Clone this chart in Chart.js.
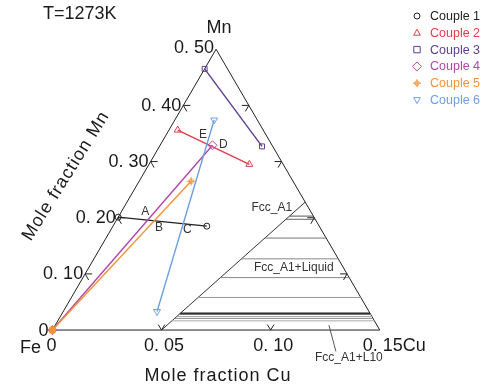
<!DOCTYPE html>
<html>
<head>
<meta charset="utf-8">
<script src="https://cdn.jsdelivr.net/npm/chart.js@4.4.1/dist/chart.umd.min.js"></script>
<style>
  html, body { margin: 0; padding: 0; background: #ffffff; }
  canvas { display: block; }
</style>
</head>
<body>
<canvas id="chart" width="483" height="389"></canvas>
<script>
// Fe-rich corner of the Fe-Cu-Mn isothermal section at 1273 K
const CU_MAX = 0.15;
const MN_MAX = 0.50;

const cuTicks = [0.05, 0.10];
const cuTickLabels = ['0. 05', '0. 10'];
const mnTicks = [0.10, 0.20, 0.30, 0.40];
const mnTickLabels = ['0. 10', '0. 20', '0. 30', '0. 40'];

// Diffusion couples: terminal compositions (mole fraction Cu, Mn)
const coupleNames = ['Couple 1', 'Couple 2', 'Couple 3', 'Couple 4', 'Couple 5', 'Couple 6'];
const coupleColors = ['#222222', '#e23d4b', '#5e3d8f', '#b047a6', '#f29338', '#6f9fe0'];
const couple1Cu = [0.000, 0.043];
const couple1Mn = [0.201, 0.185];
const couple2Cu = [0.004, 0.046];
const couple2Mn = [0.356, 0.295];
const couple3Cu = [0.000, 0.047];
const couple3Mn = [0.465, 0.327];
const couple4Cu = [0.000, 0.024];
const couple4Mn = [0.000, 0.329];
const couple5Cu = [0.000, 0.0238];
const couple5Mn = [0.000, 0.265];
const couple6Cu = [0.018, 0.043];
const couple6Mn = [0.374, 0.033];

// Fcc_A1 / Fcc_A1+Liquid phase boundary
const boundaryCu = [0.050, 0.0817];
const boundaryMn = [0.000, 0.228];

// Tie lines: Mn level, Cu at the Fcc end, Cu at the liquid end
const tieMn    = [0.2029, 0.1972, 0.1638, 0.1268, 0.0934, 0.0580, 0.0303, 0.0290, 0.0277, 0.0242, 0.0208, 0.0164];
const tieCuFcc = [0.0782, 0.0774, 0.0728, 0.0676, 0.0630, 0.0581, 0.0542, 0.0540, 0.0539, 0.0534, 0.0529, 0.0523];
const tieCuLiq = [0.0891, 0.0908, 0.1009, 0.1120, 0.1220, 0.1326, 0.1409, 0.1413, 0.1417, 0.1427, 0.1438, 0.1451];
const tieColor = ['#555', '#666', '#777', '#888', '#888', '#999', '#111', '#111', '#999', '#aaa', '#888', '#aaa'];

// Point labels (Cu, Mn) for the intersections and phase fields
const markLabels = ['A', 'B', 'C', 'D', 'E'];
const markCu = [0.0109, 0.0216, 0.0351, 0.0288, 0.0168];
const markMn = [0.2111, 0.1817, 0.1782, 0.3304, 0.3478];

const FONT = '"Liberation Sans", Arial, Helvetica, sans-serif';

// Ternary composition -> cartesian value space (base 0..1, height 0..1)
function tern(cu, mn) {
  return { x: cu / CU_MAX + 0.5 * mn / MN_MAX, y: mn / MN_MAX };
}
function series(cuArr, mnArr) {
  return cuArr.map((c, i) => tern(c, mnArr[i]));
}

// small open circle with a cross for Couple 5
function sunMarker(color, r) {
  const s = Math.ceil(r * 2 + 6);
  const cv = document.createElement('canvas');
  cv.width = s; cv.height = s;
  const g = cv.getContext('2d');
  g.strokeStyle = color; g.lineWidth = 1;
  g.beginPath(); g.arc(s / 2, s / 2, r, 0, Math.PI * 2); g.stroke();
  g.beginPath();
  g.moveTo(s / 2, s / 2 - r - 2); g.lineTo(s / 2, s / 2 + r + 2);
  g.moveTo(s / 2 - r - 2, s / 2); g.lineTo(s / 2 + r + 2, s / 2);
  g.stroke();
  return cv;
}
const sun = sunMarker(coupleColors[4], 2.3);

const frame = {
  data: [tern(0, 0), tern(CU_MAX, 0), tern(0, MN_MAX), tern(0, 0)],
  showLine: true, borderColor: '#222', borderWidth: 1, pointRadius: 0, order: 20
};

const boundary = {
  data: series(boundaryCu, boundaryMn),
  showLine: true, borderColor: '#333', borderWidth: 1, pointRadius: 0, order: 19
};

const ties = tieMn.map((m, i) => ({
  data: [tern(tieCuFcc[i], m), tern(tieCuLiq[i], m)],
  showLine: true, borderColor: tieColor[i], borderWidth: 1, pointRadius: 0, order: 18
}));

function couple(idx, cu, mn, style, radius, extra) {
  return Object.assign({
    label: coupleNames[idx],
    data: series(cu, mn),
    showLine: true,
    borderColor: coupleColors[idx],
    borderWidth: 1.4,
    pointStyle: style,
    pointRadius: radius,
    pointBorderWidth: 1,
    pointBorderColor: coupleColors[idx],
    pointBackgroundColor: 'rgba(255,255,255,0)',
    order: 10 - idx
  }, extra || {});
}

const datasets = [
  frame, boundary, ...ties,
  couple(0, couple1Cu, couple1Mn, 'circle', 3),
  couple(1, couple2Cu, couple2Mn, 'triangle', 4),
  couple(2, couple3Cu, couple3Mn, 'rect', 3.5),
  couple(3, couple4Cu, couple4Mn, 'rectRot', 4.5, { pointBackgroundColor: ['#f6a35a', 'rgba(255,255,255,0)'] }),
  couple(4, couple5Cu, couple5Mn, ['circle', sun], [3.5, 3], { pointBackgroundColor: ['#f29338', 'rgba(0,0,0,0)'] }),
  couple(5, couple6Cu, couple6Mn, 'triangle', 4, { pointRotation: 180 })
];

function drawLegendMarker(ctx, kind, x, y, color) {
  ctx.save();
  ctx.strokeStyle = color; ctx.lineWidth = 1;
  ctx.beginPath();
  if (kind === 'circle') {
    ctx.arc(x, y, 3, 0, Math.PI * 2);
  } else if (kind === 'tri') {
    ctx.moveTo(x, y - 3.6); ctx.lineTo(x + 3.3, y + 2.4); ctx.lineTo(x - 3.3, y + 2.4); ctx.closePath();
  } else if (kind === 'rect') {
    ctx.rect(x - 3.2, y - 3.2, 6.4, 6.4);
  } else if (kind === 'diamond') {
    ctx.moveTo(x, y - 4.5); ctx.lineTo(x + 4.5, y); ctx.lineTo(x, y + 4.5); ctx.lineTo(x - 4.5, y); ctx.closePath();
  } else if (kind === 'sun') {
    ctx.arc(x, y, 2.2, 0, Math.PI * 2);
    ctx.moveTo(x, y - 4); ctx.lineTo(x, y + 4);
    ctx.moveTo(x - 4, y); ctx.lineTo(x + 4, y);
  } else if (kind === 'dtri') {
    ctx.moveTo(x, y + 3.6); ctx.lineTo(x + 3.3, y - 2.4); ctx.lineTo(x - 3.3, y - 2.4); ctx.closePath();
  }
  ctx.stroke();
  ctx.restore();
}

const decorations = {
  id: 'decorations',
  afterDatasetsDraw(chart) {
    const ctx = chart.ctx;
    const sx = chart.scales.x, sy = chart.scales.y;
    const P = (cu, mn) => {
      const t = tern(cu, mn);
      return { x: sx.getPixelForValue(t.x), y: sy.getPixelForValue(t.y) };
    };
    ctx.save();
    ctx.strokeStyle = '#222';
    ctx.lineWidth = 1;
    const d60 = Math.sqrt(3) / 2;

    // tick marks on the three edges
    mnTicks.forEach(m => {
      const l = P(0, m);
      ctx.beginPath();
      ctx.moveTo(l.x + 7, l.y); ctx.lineTo(l.x, l.y); ctx.lineTo(l.x + 3.5, l.y + 7 * d60);
      ctx.stroke();
      const r = P(CU_MAX * (1 - m / MN_MAX), m);
      ctx.beginPath();
      ctx.moveTo(r.x - 7, r.y); ctx.lineTo(r.x, r.y); ctx.lineTo(r.x - 3.5, r.y + 7 * d60);
      ctx.stroke();
    });
    cuTicks.forEach(c => {
      const b = P(c, 0);
      ctx.beginPath();
      ctx.moveTo(b.x - 3.3, b.y - 5.5); ctx.lineTo(b.x, b.y); ctx.lineTo(b.x + 3.3, b.y - 5.5);
      ctx.stroke();
    });

    // leader for the Fcc_A1+L10 field
    const l1 = P(0.1254, 0.0087), l2 = P(0.1356, -0.038);
    ctx.strokeStyle = '#555';
    ctx.beginPath(); ctx.moveTo(l1.x, l1.y); ctx.lineTo(l2.x, l2.y); ctx.stroke();

    ctx.fillStyle = '#1a1a1a';
    ctx.textBaseline = 'middle';

    // edge tick labels
    ctx.font = '18px ' + FONT;
    ctx.textAlign = 'right';
    mnTicks.forEach((m, i) => {
      const l = P(0, m);
      ctx.fillText(mnTickLabels[i], l.x - 2, l.y + 0.5);
    });
    const apex = P(0, MN_MAX);
    ctx.fillText('0. 50', apex.x - 2, apex.y - 1);
    const fe = P(0, 0);
    ctx.fillText('0', fe.x - 4, fe.y + 0.5);
    ctx.textAlign = 'center';
    cuTicks.forEach((c, i) => {
      const b = P(c, 0);
      ctx.fillText(cuTickLabels[i], b.x + 2.5, b.y + 16);
    });
    ctx.fillText('0', fe.x - 1, fe.y + 15.5);
    const cuEnd = P(CU_MAX, 0);
    ctx.textAlign = 'left';
    ctx.fillText('0. 15Cu', cuEnd.x - 17, cuEnd.y + 16);

    // corner names
    ctx.textAlign = 'center';
    ctx.fillText('Mn', apex.x + 3, apex.y - 21);
    ctx.fillText('Fe', fe.x - 22, fe.y + 18);

    // axis titles, slightly tracked out
    ctx.letterSpacing = '1px';
    ctx.fillText('Mole fraction Cu', 218, 376);
    ctx.save();
    ctx.translate(66, 176);
    ctx.rotate(-58 * Math.PI / 180);
    ctx.fillText('Mole fraction Mn', 0, 0);
    ctx.restore();
    ctx.letterSpacing = '0px';

    // temperature
    ctx.textAlign = 'left';
    ctx.fillText('T=1273K', 43, 14);

    // intersection letters
    ctx.font = '12px ' + FONT;
    ctx.textAlign = 'center';
    ctx.fillStyle = '#333';
    markLabels.forEach((t, i) => {
      const p = P(markCu[i], markMn[i]);
      ctx.fillText(t, p.x, p.y);
    });

    // phase field names
    const f1 = P(0.0678, 0.218);
    ctx.fillText('Fcc_A1', f1.x, f1.y);
    const f2 = P(0.094, 0.1107);
    ctx.fillText('Fcc_A1+Liquid', f2.x, f2.y);
    const f3 = P(0.1433, -0.0497);
    ctx.fillText('Fcc_A1+L10', f3.x, f3.y);

    // legend
    const kinds = ['circle', 'tri', 'rect', 'diamond', 'sun', 'dtri'];
    ctx.font = '12.5px ' + FONT;
    ctx.textAlign = 'left';
    coupleNames.forEach((n, i) => {
      const y = 16 + i * 16.8;
      drawLegendMarker(ctx, kinds[i], 417, y, coupleColors[i]);
      ctx.fillStyle = coupleColors[i];
      ctx.fillText(n, 430, y + 0.5);
    });
    ctx.restore();
  }
};

new Chart(document.getElementById('chart'), {
  type: 'scatter',
  data: { datasets },
  options: {
    responsive: false,
    animation: false,
    layout: { padding: 0 },
    plugins: { legend: { display: false }, tooltip: { enabled: false } },
    scales: {
      x: { type: 'linear', display: false, min: -48 / 335, max: -48 / 335 + 483 / 335 },
      y: { type: 'linear', display: false, min: 45 / 289 + 1 - 389 / 289, max: 45 / 289 + 1 }
    }
  },
  plugins: [decorations]
});
</script>
</body>
</html>
